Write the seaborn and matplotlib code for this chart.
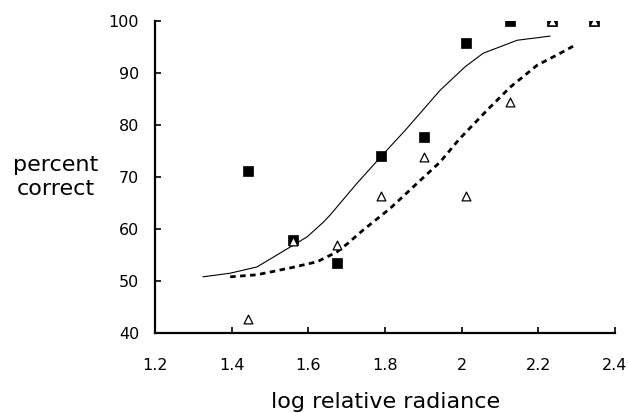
import matplotlib
matplotlib.use("Agg")
import matplotlib.pyplot as plt
import seaborn as sns
import pandas as pd

# measured data
radiance = [1.443, 1.56, 1.675, 1.79, 1.903, 2.012, 2.125, 2.235, 2.345]
squares = [71.2, 57.9, 53.5, 74.0, 77.7, 95.8, 100.0, 100.0, 100.0]
triangles = [42.7, 57.7, 56.9, 66.3, 73.8, 66.3, 84.4, 100.0, 100.0]

# fitted curves
solid_x = [1.325, 1.396, 1.466, 1.552, 1.597, 1.639, 1.657, 1.727, 1.793,
           1.853, 1.892, 1.944, 2.009, 2.056, 2.145, 2.231]
solid_y = [50.8, 51.5, 52.7, 56.5, 58.5, 61.3, 62.7, 68.8, 74.2,
           79.0, 82.3, 86.7, 91.2, 93.8, 96.3, 97.1]
dashed_x = [1.396, 1.466, 1.552, 1.623, 1.675, 1.704, 1.743, 1.814, 1.884,
            1.944, 1.994, 2.067, 2.127, 2.197, 2.257, 2.297]
dashed_y = [50.8, 51.2, 52.5, 53.7, 55.6, 57.3, 59.8, 64.0, 68.8,
            72.9, 77.3, 82.9, 87.3, 91.5, 93.8, 95.4]

xticks = [1.2, 1.4, 1.6, 1.8, 2.0, 2.2, 2.4]
xtick_labels = ["1.2", "1.4", "1.6", "1.8", "2", "2.2", "2.4"]
yticks = [40, 50, 60, 70, 80, 90, 100]

sns.set_style("white", {"xtick.bottom": True, "ytick.left": True,
                        "text.color": "black", "xtick.color": "black",
                        "ytick.color": "black", "axes.labelcolor": "black"})
plt.rcParams['font.family'] = ['DejaVu Sans']

W, H = 629, 413
fig = plt.figure(figsize=(W / 100, H / 100), dpi=100)
ax = fig.add_axes([155 / W, 80 / H, 460 / W, 312 / H])

sns.lineplot(x=solid_x, y=solid_y, ax=ax, color="black", linewidth=0.8,
             sort=False, estimator=None)
sns.lineplot(x=dashed_x, y=dashed_y, ax=ax, color="black", linewidth=2.0,
             sort=False, estimator=None)
ax.lines[-1].set_dashes([2.0, 1.6])

sns.scatterplot(x=radiance, y=squares, ax=ax, marker="s", s=48,
                color="black", edgecolor="black", linewidth=0.5, zorder=3)
sns.scatterplot(x=radiance, y=triangles, ax=ax, marker="^", s=40,
                facecolor="white", edgecolor="black", linewidth=0.9, zorder=4)

ax.set_xlim(1.2, 2.4)
ax.set_ylim(40, 100)
ax.set_xticks(xticks)
ax.set_xticklabels(xtick_labels)
ax.set_yticks(yticks)
ax.tick_params(direction="in", length=4, width=1.2, labelsize=11.5,
               bottom=True, left=True, color="black", labelcolor="black")
ax.tick_params(axis="y", pad=11.5)
ax.tick_params(axis="x", pad=18)
for s in ["top", "right"]:
    ax.spines[s].set_visible(False)
for s in ["left", "bottom"]:
    ax.spines[s].set_linewidth(1.6)
    ax.spines[s].set_color("black")

ax.set_xlabel("")
ax.set_ylabel("")
fig.text(386 / W, 1 - 408 / H, "log relative radiance", fontsize=16,
         ha="center", va="baseline", color="black")
fig.text(56 / W, 1 - 177 / H, "percent\ncorrect", fontsize=16,
         ha="center", va="center", linespacing=1.2, color="black")

fig.savefig("out.png", dpi=100)
